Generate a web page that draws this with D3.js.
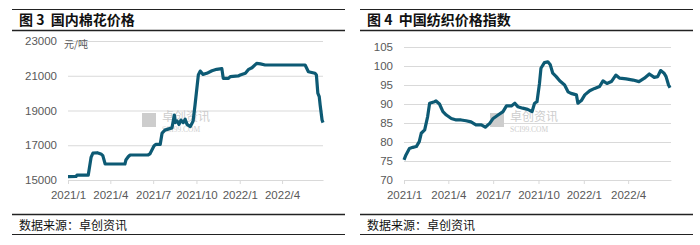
<!DOCTYPE html>
<html>
<head>
<meta charset="utf-8">
<script src="https://cdn.jsdelivr.net/npm/d3@7"></script>
<style>
	body { margin: 0; background: #fff; }
	svg { display: block; font-family: "Liberation Sans", Arial, sans-serif; }
	.cjk { font-family: "Noto Sans CJK SC", sans-serif; white-space: pre; }
</style>
</head>
<body>
<svg id="chart" width="700" height="245"></svg>
<script>
// Fig 3: domestic cotton price (yuan/ton)
const cottonDates = [
	"2021-01-01", "2021-01-18", "2021-01-20", "2021-02-13", "2021-02-19", "2021-02-23",
	"2021-03-04", "2021-03-12", "2021-03-16", "2021-03-21", "2021-05-02", "2021-05-04",
	"2021-05-09", "2021-05-13", "2021-06-20", "2021-06-24", "2021-07-03", "2021-07-07",
	"2021-07-16", "2021-07-20", "2021-07-26", "2021-08-10", "2021-08-12", "2021-08-15",
	"2021-08-17", "2021-08-21", "2021-08-25", "2021-08-29", "2021-09-03", "2021-09-07",
	"2021-09-11", "2021-09-18", "2021-09-24", "2021-09-28", "2021-10-05", "2021-10-09",
	"2021-10-15", "2021-10-23", "2021-11-03", "2021-11-13", "2021-11-24", "2021-11-27",
	"2021-12-08", "2021-12-12", "2021-12-29", "2022-01-02", "2022-01-13", "2022-01-20",
	"2022-01-27", "2022-02-06", "2022-02-14", "2022-02-24", "2022-05-20", "2022-05-27",
	"2022-06-10", "2022-06-13", "2022-06-16", "2022-06-19", "2022-06-21", "2022-06-25",
	"2022-06-27",
];
const cottonPrices = [
	15190, 15200, 15280, 15280, 16300, 16550,
	16570, 16500, 16400, 15920, 15920, 16150,
	16340, 16440, 16440, 16500, 16970, 17050,
	17050, 17700, 17870, 18000, 18300, 18740,
	18300, 18400, 18200, 18450, 18300, 18500,
	18200, 18070, 18400, 19320, 21040, 21270,
	21080, 21140, 21290, 21370, 21410, 20850,
	20850, 20950, 20990, 21040, 21140, 21370,
	21460, 21710, 21680, 21620, 21620, 21230,
	21140, 21040, 20000, 19800, 19300, 18450,
	18300,
];
const cottonTicks = [15000, 17000, 19000, 21000, 23000];

// Fig 4: China textile price index
const textileDates = [
	"2021-01-01", "2021-01-05", "2021-01-12", "2021-01-19", "2021-01-26", "2021-02-01",
	"2021-02-05", "2021-02-12", "2021-02-18", "2021-02-22", "2021-03-04", "2021-03-07",
	"2021-03-14", "2021-03-21", "2021-03-28", "2021-04-07", "2021-04-17", "2021-04-27",
	"2021-05-07", "2021-05-17", "2021-05-27", "2021-06-07", "2021-06-15", "2021-06-24",
	"2021-07-01", "2021-07-11", "2021-07-21", "2021-07-28", "2021-08-07", "2021-08-14",
	"2021-08-20", "2021-08-30", "2021-09-09", "2021-09-18", "2021-09-23", "2021-09-28",
	"2021-10-03", "2021-10-06", "2021-10-13", "2021-10-20", "2021-10-25", "2021-10-30",
	"2021-11-06", "2021-11-13", "2021-11-23", "2021-11-30", "2021-12-06", "2021-12-17",
	"2021-12-20", "2021-12-27", "2022-01-03", "2022-01-13", "2022-01-23", "2022-02-02",
	"2022-02-09", "2022-02-17", "2022-02-26", "2022-03-07", "2022-03-15", "2022-03-28",
	"2022-04-11", "2022-04-23", "2022-05-04", "2022-05-14", "2022-05-24", "2022-05-31",
	"2022-06-06", "2022-06-13", "2022-06-17", "2022-06-22", "2022-06-25",
];
const textileIndex = [
	75.3, 76.6, 78.3, 78.6, 78.8, 80.1,
	82.3, 83.2, 86.7, 90.2, 90.6, 90.8,
	90.0, 88.0, 87.1, 86.2, 85.8, 85.8,
	85.6, 85.3, 84.5, 84.5, 83.9, 84.9,
	86.2, 87.1, 88.0, 89.5, 89.5, 90.2,
	89.3, 88.9, 88.6, 88.0, 90.2, 90.6,
	95.4, 99.4, 100.9, 101.1, 100.3, 98.1,
	97.2, 96.1, 95.0, 93.2, 92.8, 92.4,
	90.2, 90.9, 92.4, 93.5, 94.1, 94.6,
	96.1, 95.4, 95.9, 97.6, 96.8, 96.6,
	96.3, 95.9, 96.8, 97.9, 97.0, 97.2,
	98.8, 98.1, 97.2, 95.0, 94.3,
];
const textileTicks = [70, 75, 80, 85, 90, 95, 100, 105];

const parseDate = d3.timeParse("%Y-%m-%d");
const xDomain = [new Date(2021, 0, 1), new Date(2022, 5, 27)];

const lineColor = "#0d5a74";
const gridColor = "#d9d9d9";
const labelColor = "#595959";

const svg = d3.select("#chart");

function drawPanel(opts) {
	const g = svg.append("g");

	// frame lines and title
	g.append("line")
		.attr("x1", opts.left).attr("x2", opts.right)
		.attr("y1", 9.5).attr("y2", 9.5)
		.attr("stroke", "#222").attr("stroke-width", 1);
	g.append("line")
		.attr("x1", opts.left).attr("x2", opts.right)
		.attr("y1", 30.5).attr("y2", 30.5)
		.attr("stroke", "#222").attr("stroke-width", 1.5);
	g.append("text")
		.attr("class", "cjk")
		.attr("x", opts.left + 7).attr("y", 25)
		.attr("font-size", 14).attr("font-weight", "bold")
		.attr("fill", "#111")
		.text(opts.title);

	// source footer
	g.append("line")
		.attr("x1", opts.left).attr("x2", opts.right)
		.attr("y1", 214.5).attr("y2", 214.5)
		.attr("stroke", "#222").attr("stroke-width", 1.5);
	g.append("line")
		.attr("x1", opts.left).attr("x2", opts.right)
		.attr("y1", 234.5).attr("y2", 234.5)
		.attr("stroke", "#222").attr("stroke-width", 1);
	g.append("text")
		.attr("class", "cjk")
		.attr("x", opts.left + 7).attr("y", 230)
		.attr("font-size", 12)
		.attr("fill", "#111")
		.text("数据来源：卓创资讯");

	const x = d3.scaleTime().domain(xDomain).range([opts.x0, opts.x1]);
	const y = d3.scaleLinear().domain(opts.yDomain).range([180, opts.yTop]);

	// y axis with gridlines
	const yAxis = g.append("g")
		.attr("transform", `translate(${opts.x0},0)`)
		.call(d3.axisLeft(y)
			.tickValues(opts.yTicks)
			.tickFormat(d3.format("d"))
			.tickSize(-(opts.x1 - opts.x0))
			.tickPadding(11));
	yAxis.select(".domain").remove();
	yAxis.selectAll(".tick line").attr("stroke", gridColor);
	yAxis.selectAll(".tick text")
		.attr("fill", labelColor)
		.attr("font-size", 11.5);

	// watermark
	const wm = g.append("g").attr("fill", "#cdcdcd");
	wm.append("rect")
		.attr("x", opts.wmX).attr("y", 113)
		.attr("width", 14).attr("height", 14);
	wm.append("text")
		.attr("class", "cjk")
		.attr("x", opts.wmX + 20).attr("y", 121)
		.attr("font-size", 12)
		.text("卓创资讯");
	wm.append("text")
		.attr("x", opts.wmX + 20).attr("y", 132)
		.attr("font-size", 7.5)
		.attr("font-family", "Liberation Serif, serif")
		.text("SCI99.COM");

	// x axis
	const xAxis = g.append("g")
		.attr("transform", "translate(0,180)")
		.call(d3.axisBottom(x)
			.ticks(d3.timeMonth.every(3))
			.tickFormat((d) => `${d.getFullYear()}/${d.getMonth() + 1}`)
			.tickSize(4)
			.tickSizeOuter(0)
			.tickPadding(7));
	xAxis.select(".domain").attr("stroke", gridColor);
	xAxis.selectAll(".tick line").attr("stroke", gridColor);
	xAxis.selectAll(".tick text")
		.attr("fill", labelColor)
		.attr("font-size", 11.5);

	// data line
	const data = opts.dates.map((d, i) => ({ date: parseDate(d), value: opts.values[i] }));
	g.append("path")
		.datum(data)
		.attr("fill", "none")
		.attr("stroke", lineColor)
		.attr("stroke-width", 3.2)
		.attr("stroke-linejoin", "round")
		.attr("d", d3.line()
			.x((d) => x(d.date))
			.y((d) => y(d.value)));

	if (opts.unit) {
		g.append("text")
			.attr("class", "cjk")
			.attr("x", opts.x0 - 4).attr("y", 48)
			.attr("font-size", 10)
			.attr("fill", labelColor)
			.text(opts.unit);
	}
}

drawPanel({
	left: 12, right: 345,
	x0: 68, x1: 323,
	yDomain: [15000, 23000], yTop: 41,
	yTicks: cottonTicks,
	dates: cottonDates, values: cottonPrices,
	title: "图 3  国内棉花价格",
	unit: "元/吨",
	wmX: 142,
});

drawPanel({
	left: 360, right: 693,
	x0: 404, x1: 671,
	yDomain: [70, 105], yTop: 47,
	yTicks: textileTicks,
	dates: textileDates, values: textileIndex,
	title: "图 4  中国纺织价格指数",
	wmX: 490,
});
</script>
</body>
</html>
